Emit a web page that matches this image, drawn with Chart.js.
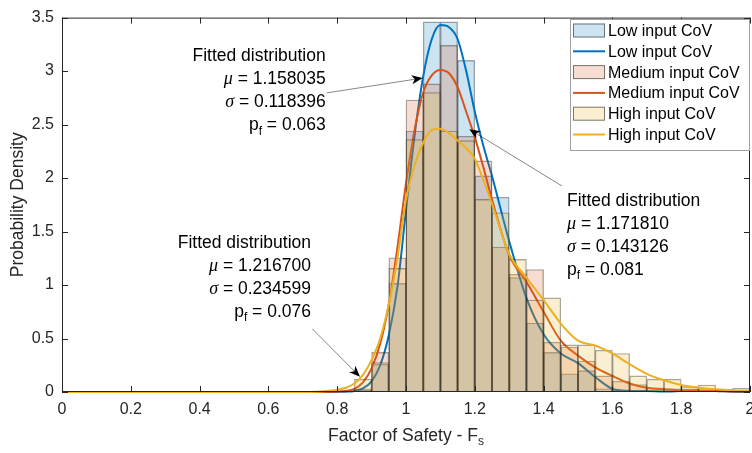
<!DOCTYPE html>
<html>
<head>
<meta charset="utf-8">
<script src="https://cdn.jsdelivr.net/npm/chart.js@4.4.0/dist/chart.umd.min.js"></script>
<style>
  html, body { margin: 0; padding: 0; background: #fff; }
  canvas { display: block; }
</style>
</head>
<body>
<canvas id="chart" width="752" height="453"></canvas>
<script>
// Histogram bins, width 0.05 (centres)
const binCenters = [0.875, 0.925, 0.975, 1.025, 1.075, 1.125, 1.175, 1.225, 1.275, 1.325, 1.375, 1.425,
                    1.475, 1.525, 1.575, 1.625, 1.675, 1.725, 1.775, 1.825, 1.875, 1.925, 1.975];
const lowHist    = [0.02, 0.26, 1.015, 2.44, 3.46, 3.46, 3.10, 2.02, 1.82, 1.07, 0.645, 0.37,
                    0.17, 0.20, 0.03, 0.02, 0.01, 0.01, 0, 0.02, 0.01, 0, 0];
const mediumHist = [0.03, 0.37, 1.255, 2.73, 2.88, 3.24, 2.39, 2.16, 1.355, 1.10, 1.145, 0.466,
                    0.42, 0.29, 0.15, 0.10, 0.07, 0.04, 0.03, 0.03, 0.01, 0.01, 0];
const highHist   = [0.12, 0.275, 1.155, 2.36, 2.80, 2.44, 2.35, 1.80, 1.675, 1.24, 0.86, 0.88,
                    0.44, 0.44, 0.39, 0.36, 0.15, 0.12, 0.12, 0.05, 0.065, 0.025, 0.035];

// Fitted density curves
const curveX      = [0, 0.5, 0.7, 0.75, 0.8, 0.825, 0.85, 0.875, 0.9, 0.925, 0.95, 0.975, 1.0, 1.025, 1.05,
                     1.075, 1.1, 1.125, 1.15, 1.175, 1.2, 1.225, 1.25, 1.3, 1.35, 1.4, 1.45, 1.5, 1.55,
                     1.6, 1.65, 1.7, 1.75, 1.8, 1.85, 1.9, 1.95, 2.0];
const lowCurve    = [0, 0, 0, 0, 0.001, 0.003, 0.01, 0.035, 0.1, 0.25, 0.53, 0.98, 1.7, 2.4, 2.95,
                     3.3, 3.43, 3.41, 3.3, 3.0, 2.62, 2.3, 2.02, 1.41, 0.88, 0.54, 0.36, 0.27, 0.14,
                     0.03, 0.01, 0.01, 0.005, 0.01, 0.015, 0.01, 0.002, 0];
const mediumCurve = [0, 0, 0, 0.001, 0.005, 0.01, 0.03, 0.09, 0.22, 0.45, 0.82, 1.35, 1.95, 2.45, 2.8,
                     2.96, 3.01, 2.98, 2.85, 2.62, 2.38, 2.1, 1.8, 1.28, 1.03, 0.75, 0.48, 0.34, 0.23,
                     0.15, 0.08, 0.04, 0.025, 0.015, 0.01, 0.01, 0.005, 0.003];
const highCurve   = [0, 0, 0.001, 0.005, 0.02, 0.04, 0.08, 0.16, 0.3, 0.5, 0.82, 1.25, 1.8, 2.12, 2.33,
                     2.45, 2.46, 2.42, 2.35, 2.28, 2.18, 1.98, 1.76, 1.29, 1.07, 0.86, 0.64, 0.48, 0.435,
                     0.36, 0.26, 0.17, 0.11, 0.065, 0.04, 0.025, 0.015, 0.01];

const seriesColors = ['#0072BD', '#D95319', '#EDB120'];
const fillColors = ['rgba(0,114,189,0.2)', 'rgba(217,83,25,0.2)', 'rgba(237,177,32,0.2)'];
const legendLabels = ['Low input CoV', 'Low input CoV', 'Medium input CoV', 'Medium input CoV', 'High input CoV', 'High input CoV'];

// Annotation texts: anchor in data units, arrows from -> to in data units
const annotations = [
    { x: 0.7666, y: 3.136, align: 'right',
      lines: [[{t: 'Fitted distribution'}], [{t: 'μ', greek: true}, {t: ' = 1.158035'}],
              [{t: 'σ', greek: true}, {t: ' = 0.118396'}], [{t: 'p'}, {t: 'f', sub: true}, {t: ' = 0.063'}]],
      from: [0.7695, 2.796], to: [1.0485, 2.935] },
    { x: 1.468, y: 1.787, align: 'left',
      lines: [[{t: 'Fitted distribution'}], [{t: 'μ', greek: true}, {t: ' = 1.171810'}],
              [{t: 'σ', greek: true}, {t: ' = 0.143126'}], [{t: 'p'}, {t: 'f', sub: true}, {t: ' = 0.081'}]],
      from: [1.4535, 1.926], to: [1.184, 2.456] },
    { x: 0.7238, y: 1.392, align: 'right',
      lines: [[{t: 'Fitted distribution'}], [{t: 'μ', greek: true}, {t: ' = 1.216700'}],
              [{t: 'σ', greek: true}, {t: ' = 0.234599'}], [{t: 'p'}, {t: 'f', sub: true}, {t: ' = 0.076'}]],
      from: [0.7276, 0.59], to: [0.8663, 0.142] }
];

const axisColor = '#262626';
const sans = "'Liberation Sans', Arial, sans-serif";
const textFont = "17.5px " + sans;
const greekFont = "italic 18px 'Liberation Serif', 'DejaVu Serif', serif";
const subFont = "12px " + sans;

function histData(values) {
    return binCenters.map((x, i) => ({ x: x, y: values[i] > 0 ? values[i] : null }));
}
function curveData(values) {
    return curveX.map((x, i) => ({ x: x, y: values[i] }));
}
function fmt(v) {
    return String(parseFloat(v.toFixed(2)));
}

function segFont(s) {
    return s.sub ? subFont : (s.greek ? greekFont : textFont);
}

function drawRich(ctx, segs, x, y, align) {
    let w = 0;
    segs.forEach(s => { ctx.font = segFont(s); w += ctx.measureText(s.t).width; });
    let cx = align === 'right' ? x - w : (align === 'center' ? x - w / 2 : x);
    ctx.textAlign = 'left';
    ctx.textBaseline = 'middle';
    segs.forEach(s => {
        ctx.font = segFont(s);
        ctx.fillText(s.t, cx, y + (s.sub ? 6 : 0));
        cx += ctx.measureText(s.t).width;
    });
}

function drawArrow(ctx, x1, y1, x2, y2) {
    const ang = Math.atan2(y2 - y1, x2 - x1);
    const len = 11, half = 4.5, notch = 3;
    ctx.strokeStyle = 'rgba(0,0,0,0.6)';
    ctx.lineWidth = 0.8;
    ctx.beginPath();
    ctx.moveTo(x1, y1);
    ctx.lineTo(x2 - Math.cos(ang) * (len - notch), y2 - Math.sin(ang) * (len - notch));
    ctx.stroke();
    ctx.save();
    ctx.translate(x2, y2);
    ctx.rotate(ang);
    ctx.fillStyle = '#000';
    ctx.beginPath();
    ctx.moveTo(0, 0);
    ctx.lineTo(-len, -half);
    ctx.lineTo(-len + notch, 0);
    ctx.lineTo(-len, half);
    ctx.closePath();
    ctx.fill();
    ctx.restore();
}

// Box, inward ticks, x title, annotations and legend
const matlabLook = {
    id: 'matlabLook',
    afterDraw(chart) {
        const ctx = chart.ctx;
        const area = chart.chartArea;
        const xs = chart.scales.x, ys = chart.scales.y;
        ctx.save();

        // axes box with inward ticks
        ctx.strokeStyle = axisColor;
        ctx.lineWidth = 1;
        ctx.strokeRect(area.left + 0.5, area.top + 0.5, area.right - area.left - 1, area.bottom - area.top - 1);
        const tl = 6;
        ctx.beginPath();
        xs.ticks.forEach(t => {
            const px = Math.round(xs.getPixelForValue(t.value)) + 0.5;
            ctx.moveTo(px, area.bottom); ctx.lineTo(px, area.bottom - tl);
            ctx.moveTo(px, area.top); ctx.lineTo(px, area.top + tl);
        });
        ys.ticks.forEach(t => {
            const py = Math.round(ys.getPixelForValue(t.value)) + 0.5;
            ctx.moveTo(area.left, py); ctx.lineTo(area.left + tl, py);
            ctx.moveTo(area.right, py); ctx.lineTo(area.right - tl, py);
        });
        ctx.stroke();

        // x axis title with subscript
        ctx.fillStyle = axisColor;
        drawRich(ctx, [{t: 'Factor of Safety - F'}, {t: 's', sub: true}], (area.left + area.right) / 2, 436, 'center');

        // annotations
        ctx.fillStyle = '#000';
        annotations.forEach(a => {
            const ax = xs.getPixelForValue(a.x);
            const ay = ys.getPixelForValue(a.y);
            a.lines.forEach((segs, i) => drawRich(ctx, segs, ax, ay + i * 23, a.align));
            drawArrow(ctx, xs.getPixelForValue(a.from[0]), ys.getPixelForValue(a.from[1]),
                      xs.getPixelForValue(a.to[0]), ys.getPixelForValue(a.to[1]));
        });

        // legend
        const lx = 570, ly = 19, lw = area.right - 570, lh = 132;
        ctx.fillStyle = '#fff';
        ctx.fillRect(lx, ly, lw, lh);
        ctx.strokeStyle = '#a0a0a0';
        ctx.lineWidth = 1;
        ctx.strokeRect(lx + 0.5, ly + 0.5, lw - 1, lh - 1);
        legendLabels.forEach((label, i) => {
            const cy = 30.5 + i * 20.8;
            const s = Math.floor(i / 2);
            if (i % 2 === 0) {
                ctx.fillStyle = fillColors[s];
                ctx.fillRect(573, cy - 7, 32, 14);
                ctx.strokeStyle = 'rgba(40,40,40,0.6)';
                ctx.strokeRect(573.5, cy - 6.5, 31, 13);
            } else {
                ctx.strokeStyle = seriesColors[s];
                ctx.lineWidth = 2;
                ctx.beginPath();
                ctx.moveTo(573, cy); ctx.lineTo(605, cy);
                ctx.stroke();
                ctx.lineWidth = 1;
            }
            ctx.fillStyle = '#000';
            ctx.font = '16px ' + sans;
            ctx.textAlign = 'left';
            ctx.textBaseline = 'middle';
            ctx.fillText(label, 608, cy + 1);
        });
        ctx.restore();
    }
};

function barSet(values, idx, order) {
    return {
        type: 'bar',
        data: histData(values),
        backgroundColor: fillColors[idx],
        borderColor: 'rgba(30,30,30,0.4)',
        borderWidth: 0.7,
        borderSkipped: false,
        grouped: false,
        barPercentage: 1,
        categoryPercentage: 1,
        order: order
    };
}
function lineSet(values, idx, order) {
    return {
        type: 'line',
        data: curveData(values),
        borderColor: seriesColors[idx],
        borderWidth: 2,
        pointRadius: 0,
        fill: false,
        cubicInterpolationMode: 'monotone',
        clip: 4,
        order: order
    };
}

Chart.defaults.font.family = sans;

new Chart(document.getElementById('chart'), {
    type: 'line',
    data: {
        datasets: [
            barSet(lowHist, 0, 6),
            lineSet(lowCurve, 0, 5),
            barSet(mediumHist, 1, 4),
            lineSet(mediumCurve, 1, 3),
            barSet(highHist, 2, 2),
            lineSet(highCurve, 2, 1)
        ]
    },
    options: {
        responsive: false,
        animation: false,
        events: [],
        layout: { padding: { top: 14, right: 2, left: 0, bottom: 0 } },
        plugins: {
            legend: { display: false },
            tooltip: { enabled: false }
        },
        scales: {
            x: {
                type: 'linear',
                min: 0,
                max: 2,
                offset: false,
                grid: { display: false, drawTicks: false },
                border: { display: false },
                ticks: {
                    stepSize: 0.2,
                    padding: 8,
                    color: axisColor,
                    font: { size: 16 },
                    maxRotation: 0,
                    autoSkip: false,
                    callback: v => fmt(v)
                },
                afterFit: s => { s.height = 61; s.paddingLeft = 0; s.paddingRight = 0; }
            },
            y: {
                min: 0,
                max: 3.5,
                grid: { display: false, drawTicks: false },
                border: { display: false },
                ticks: {
                    stepSize: 0.5,
                    padding: 8,
                    color: axisColor,
                    font: { size: 16 },
                    callback: v => fmt(v)
                },
                title: {
                    display: true,
                    text: 'Probability Density',
                    color: axisColor,
                    font: { size: 17.5 },
                    padding: { top: 8, bottom: 0 }
                },
                afterFit: s => { s.width = 62; }
            }
        }
    },
    plugins: [matlabLook]
});
</script>
</body>
</html>
